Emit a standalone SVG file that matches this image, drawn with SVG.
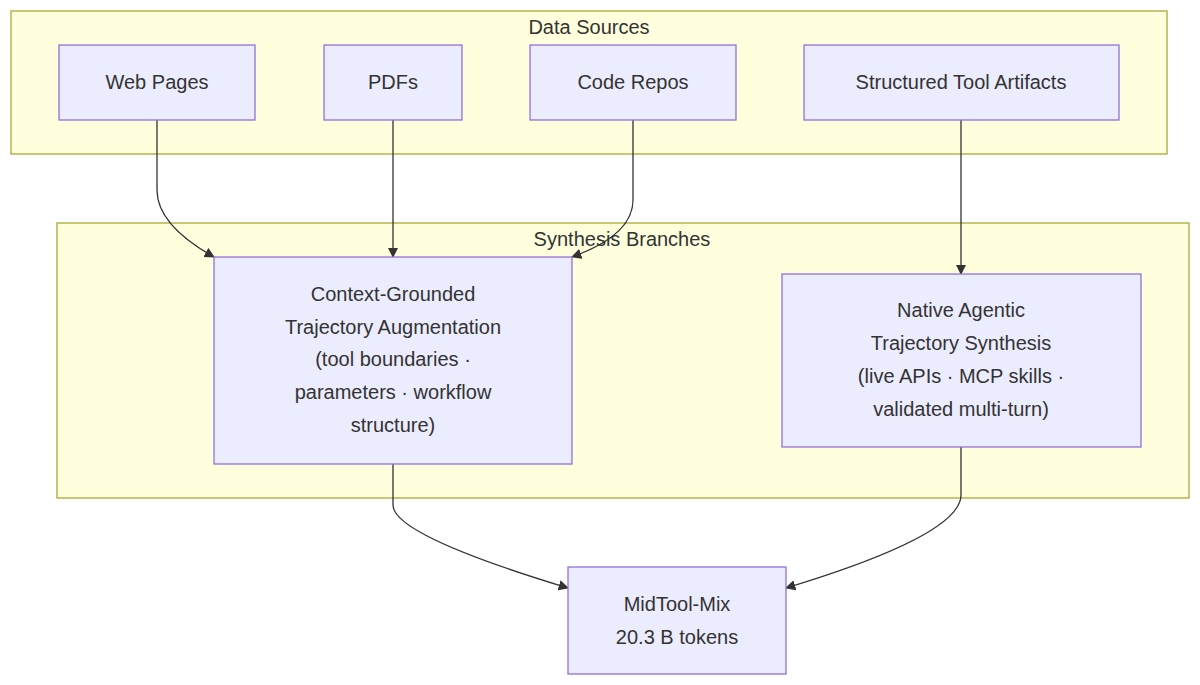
<svg xmlns="http://www.w3.org/2000/svg" width="1200" height="685" viewBox="0 0 1200 685">
<style>
.c{fill:#ffffde;stroke:#aaaa33;stroke-width:1.3}
.n{fill:#ececff;stroke:#9370db;stroke-width:1.3}
text{font-family:"Liberation Sans",Arial,sans-serif;font-size:20px;fill:#333;text-anchor:middle;dominant-baseline:central}
.e{fill:none;stroke:#333;stroke-width:1.3;marker-end:url(#a)}
</style>
<defs><marker id="a" viewBox="0 0 10 10" refX="9" refY="5" markerWidth="8" markerHeight="8" orient="auto"><path d="M0,0L10,5L0,10z" fill="#333"/></marker></defs>
<rect width="1200" height="685" fill="#fff"/>
<g id="dataSources"><rect class="c" x="11" y="11" width="1156" height="143"/><text x="589" y="27">Data Sources</text></g>
<g id="synthesis"><rect class="c" x="57" y="223" width="1132" height="275"/><text x="622" y="239">Synthesis Branches</text></g>
<g id="connectors">
<path class="e" d="M157,120V190Q157,225 214,257"/>
<path class="e" d="M393,120V257"/>
<path class="e" d="M633,120V200Q633,235 572,257"/>
<path class="e" d="M961,120V274"/>
<path class="e" d="M393,464V505Q393,535 568,588"/>
<path class="e" d="M961,447V495Q961,535 786,588"/>
</g>
<g id="web"><rect class="n" x="59" y="45" width="196" height="75"/><text x="157" y="82">Web Pages</text></g>
<g id="pdf"><rect class="n" x="324" y="45" width="138" height="75"/><text x="393" y="82">PDFs</text></g>
<g id="code"><rect class="n" x="530" y="45" width="206" height="75"/><text x="633" y="82">Code Repos</text></g>
<g id="struct"><rect class="n" x="804" y="45" width="315" height="75"/><text x="961" y="82">Structured Tool Artifacts</text></g>
<g id="context"><rect class="n" x="214" y="257" width="358" height="207"/>
<text x="393" y="294">Context-Grounded</text><text x="393" y="327">Trajectory Augmentation</text><text x="393" y="359">(tool boundaries ·</text><text x="393" y="392">parameters · workflow</text><text x="393" y="425">structure)</text></g>
<g id="native"><rect class="n" x="782" y="274" width="359" height="173"/>
<text x="961" y="310">Native Agentic</text><text x="961" y="343">Trajectory Synthesis</text><text x="961" y="376">(live APIs · MCP skills ·</text><text x="961" y="409">validated multi-turn)</text></g>
<g id="mix"><rect class="n" x="568" y="567" width="218" height="107"/><text x="677" y="604">MidTool-Mix</text><text x="677" y="637">20.3 B tokens</text></g>
</svg>
